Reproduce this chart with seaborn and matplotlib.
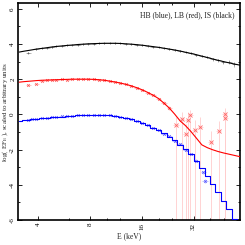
import numpy as np
import pandas as pd
import matplotlib
matplotlib.use("Agg")
import matplotlib.pyplot as plt
import seaborn as sns
from matplotlib.ticker import NullFormatter, FixedLocator

# ---------------- data ----------------
energy = [3.1, 3.3, 3.5, 3.7, 3.9, 4.2, 4.5, 4.8, 5.1, 5.5, 5.9, 6.3, 6.8, 7.3, 7.8,
          8.4, 9.0, 9.7, 10.4, 11.2, 12.0, 12.9, 13.9, 15.0, 16.1, 17.3, 18.6, 20.0,
          21.5, 23.1, 24.8, 26.7, 28.7, 30.9, 33.2, 35.7, 38.4, 41.3, 44.4, 47.7,
          51.3, 55.2, 59.3]

is_model = [3.54, 3.59, 3.63, 3.67, 3.71, 3.75, 3.79, 3.83, 3.86, 3.89, 3.92, 3.94,
            3.97, 3.99, 4.01, 4.02, 4.03, 4.04, 4.04, 4.04, 4.03, 4.01, 3.99, 3.96,
            3.93, 3.89, 3.85, 3.81, 3.76, 3.71, 3.66, 3.60, 3.53, 3.46, 3.39, 3.31,
            3.23, 3.15, 3.07, 3.00, 2.93, 2.86, 2.80]

lb_model = [1.83, 1.86, 1.88, 1.90, 1.92, 1.94, 1.95, 1.96, 1.97, 1.98, 1.99, 2.00,
            2.00, 2.00, 2.00, 1.99, 1.97, 1.94, 1.89, 1.84, 1.78, 1.71, 1.62, 1.51,
            1.39, 1.25, 1.09, 0.90, 0.64, 0.36, 0.02, -0.37, -0.64, -0.98, -1.35,
            -1.73, -1.89, -2.01, -2.11, -2.19, -2.26, -2.33, -2.40]

hb_model = [-0.37, -0.34, -0.31, -0.28, -0.25, -0.22, -0.19, -0.16, -0.14, -0.12,
            -0.10, -0.08, -0.06, -0.04, -0.03, -0.02, -0.02, -0.03, -0.05, -0.09,
            -0.14, -0.20, -0.28, -0.38, -0.49, -0.61, -0.75, -0.91, -1.08, -1.27,
            -1.48, -1.72, -1.98, -2.27, -2.62, -3.05, -3.50, -3.95, -4.40, -4.90,
            -5.40, -5.95, -6.50]

# observed points
is_e = [3.5, 3.9, 4.2, 4.5, 4.8, 5.1, 5.5, 5.9, 6.3, 6.8, 7.3, 7.8, 8.4, 9.0, 9.7,
        10.4, 11.2, 12.0, 12.9, 13.9, 15.0, 16.1, 17.3, 18.6, 20.0, 21.5, 23.1, 24.8,
        26.7, 28.7, 30.9, 33.2, 35.7, 38.4, 41.3, 44.4, 47.7, 51.3, 55.2]
is_obs = [3.50, 3.70, 3.76, 3.80, 3.82, 3.86, 3.90, 3.92, 3.95, 3.97, 3.99, 4.02,
          4.02, 4.04, 4.04, 4.05, 4.03, 4.03, 4.01, 3.98, 3.96, 3.92, 3.90, 3.84,
          3.82, 3.75, 3.72, 3.65, 3.61, 3.52, 3.47, 3.38, 3.30, 3.25, 3.12, 3.08,
          2.95, 2.96, 2.84]
is_err = [0.03, 0.02, 0.02, 0.02, 0.02, 0.02, 0.02, 0.02, 0.02, 0.02, 0.02, 0.02,
          0.02, 0.02, 0.02, 0.02, 0.02, 0.02, 0.02, 0.02, 0.03, 0.03, 0.03, 0.03,
          0.03, 0.04, 0.04, 0.04, 0.05, 0.05, 0.05, 0.06, 0.06, 0.07, 0.08, 0.09,
          0.10, 0.11, 0.13]

lb_e = [3.5, 3.9, 4.2, 4.5, 4.8, 5.1, 5.5, 5.9, 6.3, 6.8, 7.3, 7.8, 8.4, 9.0, 9.7,
        10.4, 11.2, 12.0, 12.9, 13.9, 15.0, 16.1, 17.3, 18.6, 20.0, 21.5, 23.1]
lb_obs = [1.66, 1.75, 1.90, 1.93, 1.97, 1.96, 1.99, 1.98, 2.01, 2.00, 2.01, 2.00,
          1.99, 1.97, 1.95, 1.88, 1.85, 1.78, 1.70, 1.63, 1.50, 1.40, 1.24, 1.10,
          0.88, 0.66, 0.35]
lb_err = [0.04, 0.03, 0.02, 0.02, 0.02, 0.02, 0.02, 0.02, 0.02, 0.02, 0.02, 0.02,
          0.02, 0.02, 0.03, 0.03, 0.03, 0.03, 0.03, 0.04, 0.04, 0.05, 0.05, 0.06,
          0.07, 0.08, 0.10]

# poorly constrained high-energy LB points
lb_hi_e = [25.2, 27.2, 28.8, 29.5, 30.6, 32.4, 35.0, 40.1, 44.7, 48.4, 48.9]
lb_hi_obs = [-0.59, -0.24, -1.09, -0.34, -0.06, -0.86, -0.72, -1.58, -0.97, 0.00, -0.23]
lb_hi_up = [0.45, 0.40, 0.55, 0.45, 0.30, 0.55, 0.57, 0.65, 0.60, 0.35, 0.40]
lb_hi_low = [6.0, 6.0, 6.0, 6.0, 6.0, 6.0, 6.0, 6.0, 6.0, 6.0, 6.0]

hb_e = [3.5, 3.7, 3.9, 4.2, 4.5, 4.8, 5.1, 5.5, 5.9, 6.3, 6.8, 7.3, 7.8, 8.4, 9.0,
        9.7, 10.4, 11.2, 12.0, 12.9, 13.9, 15.0, 16.1, 17.3, 18.6, 20.0, 21.5, 23.1,
        24.8, 26.7, 28.7, 30.9, 33.2, 36.4, 37.2]
hb_obs = [-0.30, -0.28, -0.26, -0.21, -0.19, -0.15, -0.14, -0.11, -0.10, -0.08,
          -0.05, -0.04, -0.03, -0.02, -0.01, -0.03, -0.05, -0.08, -0.15, -0.19,
          -0.29, -0.37, -0.50, -0.60, -0.77, -0.90, -1.10, -1.25, -1.50, -1.70,
          -2.00, -2.25, -2.62, -3.30, -3.77]
hb_err = [0.03, 0.02, 0.02, 0.02, 0.02, 0.02, 0.02, 0.02, 0.02, 0.02, 0.02, 0.02,
          0.02, 0.02, 0.02, 0.02, 0.02, 0.02, 0.02, 0.02, 0.02, 0.03, 0.03, 0.03,
          0.03, 0.03, 0.04, 0.04, 0.05, 0.05, 0.06, 0.07, 0.08, 0.10, 0.12]

x_ticks = [4, 8, 16, 32]
x_minor = [6, 10, 12, 20, 24, 40, 48]
y_ticks = [-6, -4, -2, 0, 2, 4, 6]

# ---------------- style ----------------
sns.set_theme(style="ticks")
plt.rcParams["font.family"] = ["Liberation Serif", "DejaVu Serif"]
plt.rcParams["mathtext.fontset"] = "stix"

fig = plt.figure(figsize=(2.45, 2.45), dpi=100)
ax = fig.add_axes([18 / 245, 1 - 220 / 245, 222 / 245, 216.5 / 245])

smooth = pd.DataFrame({
    "E": energy * 2,
    "val": is_model + lb_model,
    "src": ["IS"] * len(energy) + ["LB"] * len(energy),
})
stepped = pd.DataFrame({"E": energy, "val": hb_model, "src": ["HB"] * len(energy)})

def bin_halfwidth(e):
    e = np.asarray(e, dtype=float)
    return np.vstack([e * (1 - 1 / 1.037), e * (1.037 - 1)])

# data with error bars
ax.errorbar(lb_hi_e, lb_hi_obs, yerr=[lb_hi_low, lb_hi_up], xerr=bin_halfwidth(lb_hi_e),
            fmt="x", color="#ff6666", ecolor="#ffcccc", ms=2.2, mew=0.6, elinewidth=0.6,
            capsize=0, zorder=2)
ax.errorbar(is_e, is_obs, yerr=is_err, xerr=bin_halfwidth(is_e), fmt="+", color="#666666",
            ecolor="#999999", ms=2.0, mew=0.5, elinewidth=0.5, capsize=0, zorder=2)
ax.errorbar(lb_e, lb_obs, yerr=lb_err, xerr=bin_halfwidth(lb_e), fmt="x", color="#ff5555",
            ecolor="#ffaaaa", ms=2.0, mew=0.5, elinewidth=0.5, capsize=0, zorder=2)
ax.errorbar(hb_e, hb_obs, yerr=hb_err, xerr=bin_halfwidth(hb_e), fmt="x", color="#5555ff",
            ecolor="#aaaaff", ms=2.0, mew=0.5, elinewidth=0.5, capsize=0, zorder=2)

palette = {"IS": "black", "LB": "#ff0000", "HB": "#0000ff"}
sns.lineplot(data=smooth, x="E", y="val", hue="src", palette=palette,
             linewidth=0.8, legend=False, ax=ax, estimator=None, sort=False, zorder=3)
sns.lineplot(data=stepped, x="E", y="val", hue="src", palette=palette,
             drawstyle="steps-mid", linewidth=0.8, legend=False, ax=ax,
             estimator=None, sort=False, zorder=3)

ax.set_xscale("log")
ax.set_xlim(3.05, 59.5)
ax.set_ylim(-6, 6.3)
ax.xaxis.set_major_locator(FixedLocator(x_ticks))
ax.xaxis.set_minor_locator(FixedLocator(x_minor))
ax.set_xticklabels([str(t) for t in x_ticks])
ax.xaxis.set_minor_formatter(NullFormatter())
ax.set_yticks(y_ticks)
ax.set_yticklabels([str(t) for t in y_ticks])
ax.set_yticks([-5, -3, -1, 1, 3, 5], minor=True)

ax.tick_params(which="both", direction="in", top=True, right=True, width=0.6,
               labelsize=5, pad=2, colors="black")
ax.tick_params(which="major", length=3)
ax.tick_params(which="minor", length=1.6)
ax.tick_params(axis="x", labelrotation=90)
ax.tick_params(axis="y", labelrotation=90)
for lab in ax.get_yticklabels():
    lab.set_va("center")

for s in ax.spines.values():
    s.set_linewidth(1.2)
    s.set_color("black")

ax.set_xlabel("E (keV)", fontsize=5.5, labelpad=2)
ax.set_ylabel(r"log( EF$_{\rm E}$ ), scaled to arbitrary units", fontsize=5, labelpad=0)
ax.yaxis.set_label_coords(-0.035, 0.5)
ax.text(0.975, 0.965, "HB (blue), LB (red), IS (black)", transform=ax.transAxes,
        ha="right", va="top", fontsize=5.5, color="#222222")

fig.savefig("out.png", dpi=100)
